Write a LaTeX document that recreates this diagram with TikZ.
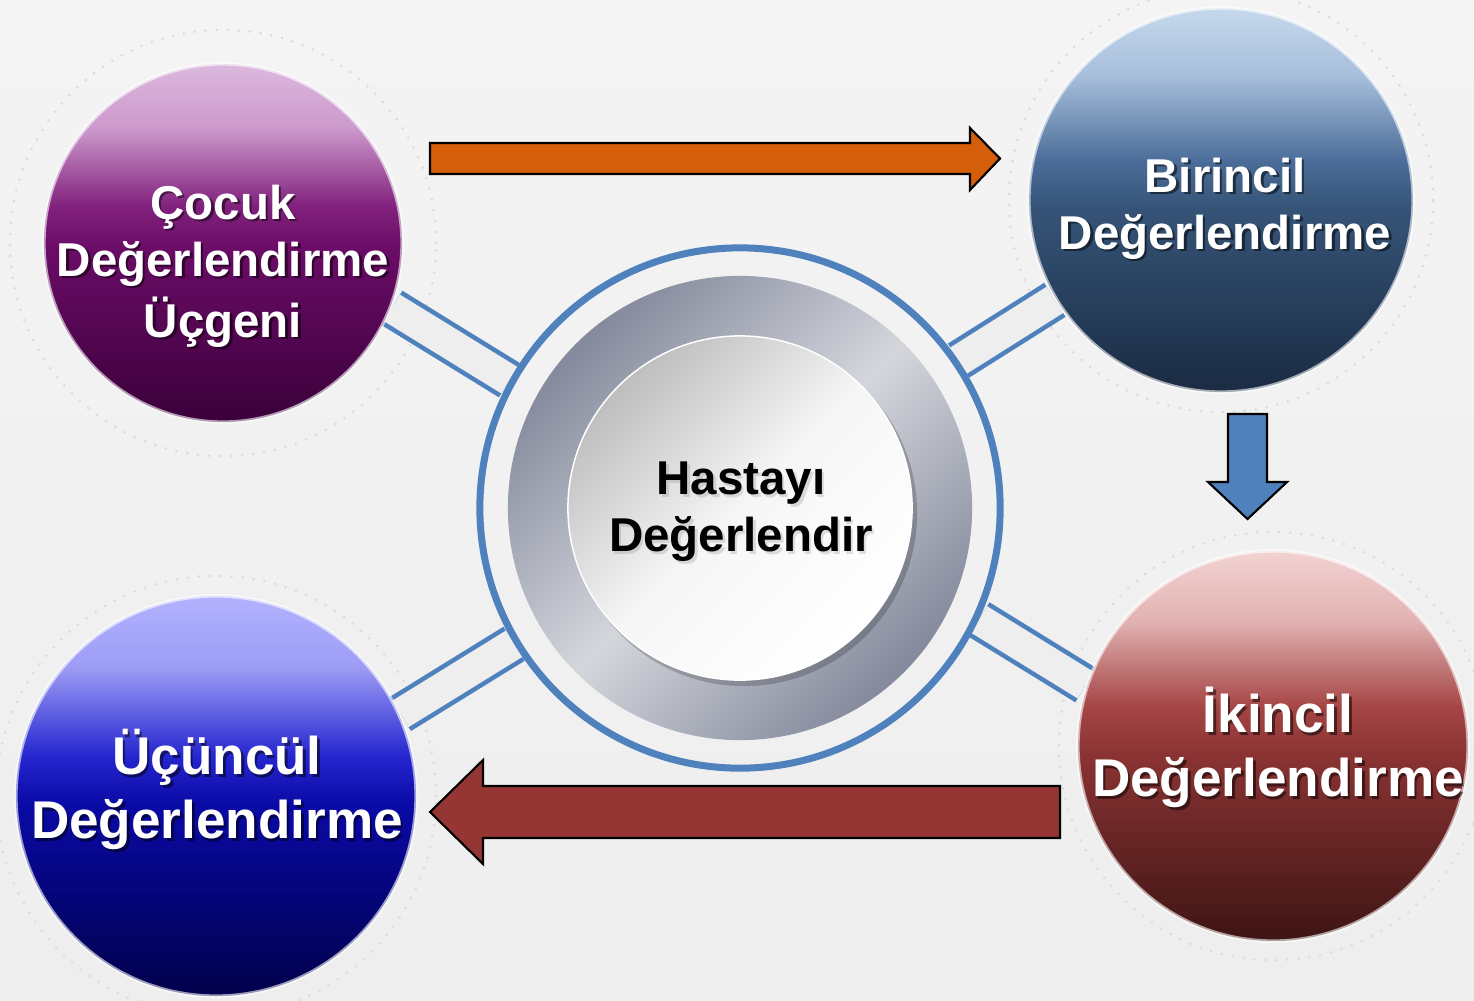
\documentclass[tikz,border=0pt]{standalone}
\usepackage{fontspec}
\setmainfont{Liberation Sans}
\usepackage{tikz}
\usetikzlibrary{backgrounds}

\definecolor{bgrey}{RGB}{238,238,238}
\definecolor{bgtop}{RGB}{244,244,244}
\definecolor{halogrey}{RGB}{220,220,220}
\definecolor{linkblue}{RGB}{79,129,189}
\definecolor{arroworange}{RGB}{212,94,9}
\definecolor{arrowred}{RGB}{149,54,52}
\definecolor{ringdark}{RGB}{132,138,156}
\definecolor{ringlight}{RGB}{212,214,220}
\definecolor{coregrey}{RGB}{190,190,190}
\definecolor{corewhite}{RGB}{246,246,246}

% ball colours: bottom, middle, upper middle, light, top
\definecolor{pBot}{RGB}{58,0,58}
\definecolor{pMid}{RGB}{106,12,102}
\definecolor{pMidb}{RGB}{128,32,124}
\definecolor{pLight}{RGB}{204,153,204}
\definecolor{pTop}{RGB}{220,184,222}
\definecolor{bBot}{RGB}{26,43,66}
\definecolor{bMid}{RGB}{54,84,120}
\definecolor{bMidb}{RGB}{74,108,152}
\definecolor{bLight}{RGB}{166,190,219}
\definecolor{bTop}{RGB}{198,216,236}
\definecolor{rBot}{RGB}{62,20,20}
\definecolor{rMid}{RGB}{139,51,51}
\definecolor{rMidb}{RGB}{165,69,69}
\definecolor{rLight}{RGB}{226,178,178}
\definecolor{rTop}{RGB}{242,210,210}
\definecolor{uBot}{RGB}{0,0,74}
\definecolor{uMid}{RGB}{10,10,166}
\definecolor{uMidb}{RGB}{38,38,208}
\definecolor{uLight}{RGB}{156,156,246}
\definecolor{uTop}{RGB}{178,178,255}

\newcommand{\ballshade}[6]{%
  \pgfdeclareverticalshading{#1}{100bp}{color(0bp)=(#2); color(25bp)=(#2);
    color(49bp)=(#3); color(55bp)=(#4); color(66bp)=(#5); color(75bp)=(#6);
    color(100bp)=(#6)}}
\ballshade{cocukshade}{pBot}{pMid}{pMidb}{pLight}{pTop}
\ballshade{birincilshade}{bBot}{bMid}{bMidb}{bLight}{bTop}
\ballshade{ikincilshade}{rBot}{rMid}{rMidb}{rLight}{rTop}
\ballshade{ucunculshade}{uBot}{uMid}{uMidb}{uLight}{uTop}

% name, position, style, shadow colour, shadow opacity, text
\newcommand{\shadowtext}[6]{%
  \node[#3, text=#4, text opacity=#5, xshift=0.7pt, yshift=-0.7pt] (#1s) at (#2) {#6};
  \node[#3] (#1) at (#2) {#6};}

\begin{document}
\begin{tikzpicture}[x=0.01cm, y=-0.01cm,
  ball/.style={circle, inner sep=0pt, draw=white, draw opacity=.6,
               line width=0.035cm, shade},
  lbl/.style={align=center, inner sep=0pt, text=white,
              font=\bfseries\fontsize{13.5}{16.2}\selectfont},
  biglbl/.style={lbl, font=\bfseries\fontsize{15.1}{18.2}\selectfont},
  corelbl/.style={lbl, text=black},
  link/.style={draw=linkblue, line width=0.046cm, double=bgrey,
               double distance=0.31cm},
  halo/.style={draw=halogrey, line width=0.03cm, line cap=round,
               dash pattern=on 0pt off 0.11cm},
  block/.style={draw=black, line width=0.6pt, line join=miter},
]

\useasboundingbox (0,0) rectangle (1474,1000);
\begin{scope}[on background layer]
  \shade[top color=bgtop, bottom color=bgrey] (0,0) rectangle (1474,1000);
\end{scope}

%% Hub
\node[circle, inner sep=0pt, minimum size=5.2cm, draw=linkblue,
      line width=0.07cm] (hub) at (740,508) {};
\node[circle, inner sep=0pt, minimum size=4.64cm, top color=ringdark,
      bottom color=ringdark, middle color=ringlight, shading angle=45]
  (ring) at (hub) {};
\node[circle, inner sep=0pt, minimum size=3.46cm, fill=black, opacity=.2]
  (coreshadow) at ([xshift=0.04cm, yshift=-0.05cm]hub) {};
\node[circle, inner sep=0pt, minimum size=3.44cm, top color=coregrey,
      bottom color=white, middle color=corewhite, shading angle=45,
      draw=white, line width=0.015cm] (core) at (hub) {};

%% Assessment balls
\node[ball, minimum size=3.58cm, shading=cocukshade]    (cocuk)    at (223,243)  {};
\node[ball, minimum size=3.84cm, shading=birincilshade] (birincil) at (1221,200) {};
\node[ball, minimum size=3.9cm,  shading=ikincilshade]  (ikincil)  at (1273,746) {};
\node[ball, minimum size=4.0cm,  shading=ucunculshade]  (ucuncul)  at (216,796)  {};

%% Halos and links (under the balls)
\begin{scope}[on background layer]
  \draw[halo] (cocuk)    circle[radius=2.13cm];
  \draw[halo] (birincil) circle[radius=2.12cm];
  \draw[halo] (ikincil)  circle[radius=2.14cm];
  \draw[halo] (ucuncul)  circle[radius=2.2cm];

  \draw[link] (hub.151) -- (cocuk.-21);
  \draw[link] (hub.34)  -- (birincil.-149);
  \draw[link] (hub.-25) -- (ikincil.162);
  \draw[link] (hub.211) -- (ucuncul.24);
\end{scope}

%% Flow arrows
\filldraw[block, fill=arroworange] (430,143) -- (970,143) -- (970,128)
  -- (1000,158.5) -- (970,190) -- (970,174) -- (430,174) -- cycle;
\filldraw[block, fill=linkblue] (1228,414) -- (1267,414) -- (1267,482)
  -- (1287,482) -- (1247.5,519) -- (1208,482) -- (1228,482) -- cycle;
\filldraw[block, fill=arrowred] (1060,786) -- (483,786) -- (483,760)
  -- (430,812) -- (483,864) -- (483,838) -- (1060,838) -- cycle;

%% Labels
\shadowtext{cocukT}{223,267}{lbl}{black}{.5}
  {\strut Çocuk\\\strut Değerlendirme\\\strut Üçgeni}
\shadowtext{birincilT}{1225,209.6}{lbl}{black}{.5}
  {\strut Birincil\\\strut Değerlendirme}
\shadowtext{ikincilT}{1278,751.7}{biglbl}{black}{.5}
  {\strut İkincil\\\strut Değerlendirme}
\shadowtext{ucunculT}{217,793.7}{biglbl}{black}{.5}
  {\strut Üçüncül\\\strut Değerlendirme}
\shadowtext{coreT}{741,512}{corelbl}{gray}{.25}
  {\strut Hastayı\\\strut Değerlendir}

\end{tikzpicture}
\end{document}
